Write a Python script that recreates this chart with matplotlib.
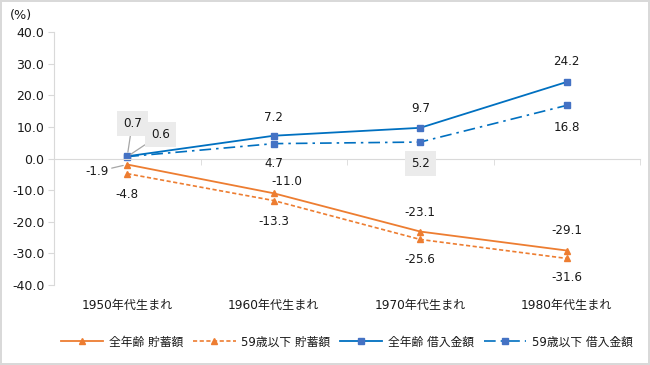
import matplotlib
matplotlib.use('Agg')
import matplotlib.pyplot as plt
import numpy as np

plt.rcParams['font.family'] = ['DejaVu Sans', 'Noto Sans CJK JP']

# data
cats = ['1950年代生まれ', '1960年代生まれ', '1970年代生まれ', '1980年代生まれ']
save_all = [-1.9, -11.0, -23.1, -29.1]
save_u59 = [-4.8, -13.3, -25.6, -31.6]
debt_all = [0.7, 7.2, 9.7, 24.2]
debt_u59 = [0.6, 4.7, 5.2, 16.8]
names = ['全年齢 貯蓄額', '59歳以下 貯蓄額', '全年齢 借入金額', '59歳以下 借入金額']

orange = '#ED7D31'
blue_line = '#0070C0'
blue_mk = '#4472C4'
grid_c = '#D9D9D9'
txt_c = '#1a1a1a'

fig = plt.figure(figsize=(6.5, 3.65), dpi=100)
fig.patch.set_edgecolor(grid_c)
fig.patch.set_linewidth(1.5)
ax = fig.add_axes([54/650, 1-285/365, 586/650, 253/365])
x = np.arange(len(cats))

l1, = ax.plot(x, save_all, color=orange, lw=1.3, marker='^', ms=5, mfc=orange, mec=orange, label=names[0])
l2, = ax.plot(x, save_u59, color=orange, lw=1.2, ls=(0, (2.5, 1.5)), marker='^', ms=5, mfc=orange, mec=orange, label=names[1])
l3, = ax.plot(x, debt_all, color=blue_line, lw=1.3, marker='s', ms=4.5, mfc=blue_mk, mec=blue_mk, label=names[2])
l4, = ax.plot(x, debt_u59, color=blue_line, lw=1.2, ls=(0, (7, 3, 1.5, 3)), marker='s', ms=4.5, mfc=blue_mk, mec=blue_mk, label=names[3])

ax.set_xlim(-0.5, 3.5)
ax.set_ylim(-40, 40)
ax.set_yticks(np.arange(-40, 41, 10))
ax.set_yticklabels([f'{v:.1f}' for v in np.arange(-40, 41, 10)])
ax.tick_params(axis='y', length=4, color=grid_c, labelsize=9, labelcolor=txt_c, pad=3)

for s in ['top', 'right']:
    ax.spines[s].set_visible(False)
ax.spines['left'].set_color(grid_c)
ax.spines['bottom'].set_position(('data', 0))
ax.spines['bottom'].set_color(grid_c)
ax.set_xticks(x)
ax.set_xticklabels([])
ax.tick_params(axis='x', which='major', length=0)
ax.set_xticks(np.arange(-0.5, 4, 1), minor=True)
ax.tick_params(axis='x', which='minor', length=4, color=grid_c, direction='out')

sec = ax.secondary_xaxis('bottom')
sec.set_xticks(x)
sec.set_xticklabels(cats)
sec.tick_params(length=0, labelsize=8.7, labelcolor=txt_c, pad=10)
sec.spines['bottom'].set_visible(False)

fig.text(10/650, 1-16/365, '(%)', ha='left', va='center', fontsize=9.2, color=txt_c)

# data labels: offsets in pixels (dx, dy up)
def px(v):
    return v * 0.72

lab_kw = dict(textcoords='offset points', ha='center', va='center', fontsize=8.6, color=txt_c)
lead = dict(arrowstyle='-', color='#A6A6A6', lw=0.9, shrinkA=0, shrinkB=3)
box = dict(boxstyle='square,pad=0.5', fc='#EBEBEB', ec='none')

offs_save_all = [(-30, -7), (13, 12), (0, 19), (0, 20)]
offs_save_u59 = [(0, -21), (0, -21), (0, -20), (0, -19)]
offs_debt_all = [(5, 33), (0, 18), (0, 19), (0, 20)]
offs_debt_u59 = [(33, 22), (0, -20), (0, -21), (0, -22)]

for i, v in enumerate(save_all):
    dx, dy = offs_save_all[i]
    kw = dict(arrowprops=lead) if i == 0 else {}
    ax.annotate(f'{v:.1f}', (x[i], v), xytext=(px(dx), px(dy)), **lab_kw, **kw)
for i, v in enumerate(save_u59):
    dx, dy = offs_save_u59[i]
    ax.annotate(f'{v:.1f}', (x[i], v), xytext=(px(dx), px(dy)), **lab_kw)
for i, v in enumerate(debt_all):
    dx, dy = offs_debt_all[i]
    kw = dict(arrowprops=lead, bbox=box) if i == 0 else {}
    ax.annotate(f'{v:.1f}', (x[i], v), xytext=(px(dx), px(dy)), **lab_kw, **kw)
for i, v in enumerate(debt_u59):
    dx, dy = offs_debt_u59[i]
    kw = {}
    if i == 0:
        kw = dict(arrowprops=lead, bbox=box)
    elif i == 2:
        kw = dict(bbox=box)
    ax.annotate(f'{v:.1f}', (x[i], v), xytext=(px(dx), px(dy)), **lab_kw, **kw)

fig.legend(handles=[l1, l2, l3, l4], loc='center', bbox_to_anchor=(347/650, 1-342/365), ncol=4,
           frameon=False, fontsize=8.5, handlelength=3.6, handletextpad=0.5, columnspacing=0.8,
           labelcolor=txt_c)

fig.savefig('out.png', dpi=100)
